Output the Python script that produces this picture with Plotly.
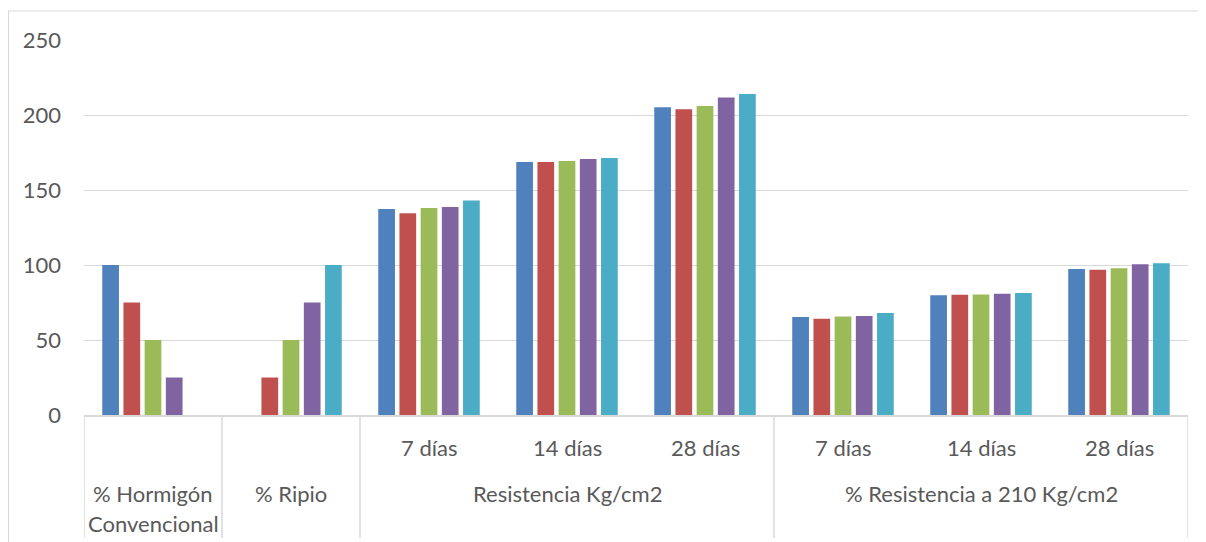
import plotly.graph_objects as go

categories = ["% Hormigón Convencional", "% Ripio",
              "R 7 días", "R 14 días", "R 28 días",
              "P 7 días", "P 14 días", "P 28 días"]
inner_labels = ["", "", "7 días", "14 días", "28 días", "7 días", "14 días", "28 días"]
series_names = ["Serie 1", "Serie 2", "Serie 3", "Serie 4", "Serie 5"]
s1 = [100, 0, 137.3, 168.7, 205.1, 65.4, 79.9, 97.4]
s2 = [75, 25, 134.5, 168.7, 203.8, 64.1, 80.1, 96.8]
s3 = [50, 50, 138.0, 169.3, 206.0, 65.6, 80.4, 97.9]
s4 = [25, 75, 138.7, 170.7, 211.6, 66.0, 80.9, 100.5]
s5 = [0, 100, 143.0, 171.3, 214.0, 68.0, 81.4, 101.2]
colors = ["#4F81BD", "#C0504D", "#9BBB59", "#8064A2", "#4BACC6"]
y_ticks = [0, 50, 100, 150, 200, 250]

TXT = "#595959"
GRID = "#D9D9D9"
FONT = "Lato"
FS = 22

fig = go.Figure()
for name, vals, col in zip(series_names, [s1, s2, s3, s4, s5], colors):
    fig.add_trace(go.Bar(x=categories, y=vals, name=name,
                         marker=dict(color=col, line=dict(width=0))))

# the page body has an 8px margin, so page coordinates are offset by 8
OFF = 8
W, H = 1206, 542
PL, PR, PT, PB = 84, 1188, 40, 415   # plot area in page pixels
L = PL - OFF
T = PT - OFF
R = W - (PR - OFF)
B = H - (PB - OFF)
pw, ph = PR - PL, PB - PT


def py(p):
    return (PB - p) / ph


def px(p):
    return (p - PL) / pw


fig.update_layout(
    width=W, height=H,
    margin=dict(l=L, r=R, t=T, b=B),
    paper_bgcolor="white", plot_bgcolor="white",
    showlegend=False,
    barmode="group", bargap=0.232, bargroupgap=0.212,
    font=dict(family=FONT, color=TXT, size=FS),
    xaxis=dict(type="category", showticklabels=False, showgrid=False,
               showline=True, linecolor=GRID, linewidth=1.5, ticks="",
               range=[-0.5, 7.5], fixedrange=True),
    yaxis=dict(range=[0, 250], tickvals=y_ticks, showgrid=True, gridcolor=GRID,
               gridwidth=1.3, zeroline=False, showline=False, ticks="",
               ticklabelstandoff=22, tickfont=dict(size=FS, color=TXT)),
)

ann = []
for i, lab in enumerate(inner_labels):
    if lab:
        ann.append(dict(x=i, y=py(447), xref="x", yref="paper", text=lab,
                        showarrow=False, xanchor="center", yanchor="middle"))
ann.append(dict(x=0, y=py(494), xref="x", yref="paper", text="% Hormigón",
                showarrow=False, xanchor="center", yanchor="middle"))
ann.append(dict(x=0, y=py(523), xref="x", yref="paper", text="Convencional",
                showarrow=False, xanchor="center", yanchor="middle"))
ann.append(dict(x=1, y=py(494), xref="x", yref="paper", text="% Ripio",
                showarrow=False, xanchor="center", yanchor="middle"))
ann.append(dict(x=3, y=py(494), xref="x", yref="paper", text="Resistencia Kg/cm2",
                showarrow=False, xanchor="center", yanchor="middle"))
ann.append(dict(x=6, y=py(494), xref="x", yref="paper", text="% Resistencia a 210 Kg/cm2",
                showarrow=False, xanchor="center", yanchor="middle"))
fig.update_layout(annotations=ann)

shapes = []
for xb in [-0.5, 0.5, 1.5, 4.5, 7.5]:
    shapes.append(dict(type="line", xref="x", yref="paper", x0=xb, x1=xb,
                       y0=0, y1=py(538), line=dict(color=GRID, width=1.5)))
shapes.append(dict(type="line", xref="paper", yref="paper", x0=px(8), x1=px(1206),
                   y0=py(11), y1=py(11), line=dict(color=GRID, width=1.2)))
shapes.append(dict(type="line", xref="paper", yref="paper", x0=px(8.5), x1=px(8.5),
                   y0=py(11), y1=py(542), line=dict(color=GRID, width=1.2)))
fig.update_layout(shapes=shapes)

fig.write_html("out.html")
